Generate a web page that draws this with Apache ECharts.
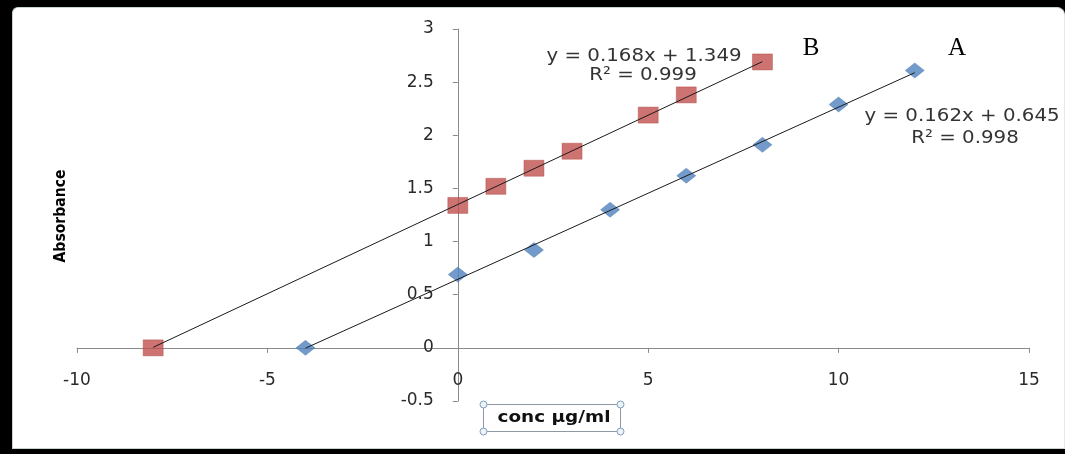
<!DOCTYPE html>
<html>
<head>
<meta charset="utf-8">
<script src="https://cdn.jsdelivr.net/npm/echarts@6/dist/echarts.min.js"></script>
<style>
  html, body { margin: 0; padding: 0; background: #000; overflow: hidden; }
  #frame {
    position: absolute; left: 12px; top: 7px; width: 1051px; height: 440px;
    background: #fff; border: 1px solid #c9d2d3; border-right-color: #e4e9ea;
    border-radius: 6px 8px 0 0;
  }
  #chart { position: absolute; left: 0; top: 0; width: 1065px; height: 454px; }
</style>
</head>
<body>
<div id="frame"></div>
<div id="chart"></div>
<script>
// Standard A: concentration (µg/ml) and absorbance
const concA = [-4, 0, 2, 4, 6, 8, 10, 12];
const absA  = [0, 0.69, 0.92, 1.30, 1.62, 1.91, 2.29, 2.61];
// Standard B: concentration (µg/ml) and absorbance
const concB = [-8, 0, 1, 2, 3, 5, 6, 8];
const absB  = [0, 1.34, 1.52, 1.69, 1.85, 2.19, 2.38, 2.69];

// Linear trendlines (slope, intercept, R²)
const fitA = [0.162, 0.645, 0.998];
const fitB = [0.168, 1.349, 0.999];

// Axis ranges: min, max, interval
const xRange = [-10, 15, 5];
const yRange = [-0.5, 3, 0.5];

const labelFont = '"DejaVu Sans"';
const gridBox = { left: 77, right: 36, top: 29, bottom: 53 };

function pairs(xs, ys) { return xs.map((x, i) => [x, ys[i]]); }
function trend(xs, fit) {
  const lo = Math.min(...xs), hi = Math.max(...xs);
  return [[lo, fit[0] * lo + fit[1]], [hi, fit[0] * hi + fit[1]]];
}
function eqText(fit) {
  return 'y = ' + fit[0].toFixed(3) + 'x + ' + fit[1].toFixed(3);
}

const chart = echarts.init(document.getElementById('chart'), null, { renderer: 'canvas' });

const txt = (x, y, text, font, color, sx) => ({
  type: 'text', x: x, y: y, z: 50, scaleX: sx || 1,
  style: { text: text, font: font, fill: color || '#333',
           align: 'center', verticalAlign: 'middle',
           textAlign: 'center', textVerticalAlign: 'middle' }
});

const handle = (x, y) => ({
  type: 'circle', z: 51, shape: { cx: x, cy: y, r: 3.5 },
  style: { fill: '#eef3f8', stroke: '#7f9cbb', lineWidth: 1 }
});

const axisCommon = {
  type: 'value',
  axisLine: { onZero: false, lineStyle: { color: '#8a8a8a', width: 1 } },
  axisTick: { show: true, length: 5, lineStyle: { color: '#8a8a8a' } },
  axisLabel: { margin: 24, fontFamily: labelFont, fontSize: 17, color: '#2a2a2a' },
  splitLine: { show: false }
};

chart.setOption({
  animation: false,
  grid: Object.assign({ containLabel: false }, gridBox),
  xAxis: Object.assign({}, axisCommon, { min: xRange[0], max: xRange[1], interval: xRange[2] }),
  yAxis: Object.assign({}, axisCommon, { min: yRange[0], max: yRange[1], interval: yRange[2] }),
  series: [
    {
      name: 'A', type: 'scatter', data: pairs(concA, absA),
      symbol: 'diamond', symbolSize: [19, 15], z: 3,
      itemStyle: { color: '#4f81bd', borderColor: '#3f6fa8', borderWidth: 0.5 }
    },
    {
      name: 'B', type: 'scatter', data: pairs(concB, absB),
      symbol: 'rect', symbolSize: [20, 16], z: 3,
      itemStyle: { color: '#c0504d', borderColor: '#a8403d', borderWidth: 0.5 }
    },
    {
      name: 'Linear (A)', type: 'line', data: trend(concA, fitA),
      symbol: 'none', z: 5, lineStyle: { color: '#1a1a1a', width: 1 }
    },
    {
      name: 'Linear (B)', type: 'line', data: trend(concB, fitB),
      symbol: 'none', z: 5, lineStyle: { color: '#1a1a1a', width: 1 }
    }
  ],
  graphic: {
    elements: [
      // trendline equations
      txt(644, 56, eqText(fitB), '18px ' + labelFont, '#333', 1.1),
      txt(643, 75, 'R² = ' + fitB[2].toFixed(3), '18px ' + labelFont, '#333', 1.1),
      txt(962, 116, eqText(fitA), '18px ' + labelFont, '#333', 1.1),
      txt(965, 138, 'R² = ' + fitA[2].toFixed(3), '18px ' + labelFont, '#333', 1.1),
      // series letters
      txt(811, 48, 'B', '25px "Liberation Serif"', '#000'),
      txt(957, 48, 'A', '25px "Liberation Serif"', '#000'),
      // y axis title
      {
        type: 'text', x: 61, y: 216, rotation: Math.PI / 2, z: 50, scaleY: 1.1,
        style: { text: 'Absorbance', font: 'bold 14px ' + labelFont, fill: '#000',
                 align: 'center', verticalAlign: 'middle',
                 textAlign: 'center', textVerticalAlign: 'middle' }
      },
      // x axis title in its selection box
      {
        type: 'rect', z: 49, shape: { x: 483.5, y: 404.5, width: 137, height: 27 },
        style: { fill: '#fff', stroke: '#8e99a4', lineWidth: 1 }
      },
      txt(554, 418, 'conc µg/ml', 'bold 16px ' + labelFont, '#111', 1.15),
      handle(483.5, 404.5), handle(620.5, 404.5),
      handle(483.5, 431.5), handle(620.5, 431.5)
    ]
  }
});

// Move both axes so they cross at the origin, carrying their labels with them.
const origin = chart.convertToPixel({ gridIndex: 0 }, [0, 0]);
const plotBottom = chart.getHeight() - gridBox.bottom;
chart.setOption({
  xAxis: { offset: -(plotBottom - origin[1]) },
  yAxis: { offset: -(origin[0] - gridBox.left) }
});
</script>
</body>
</html>
